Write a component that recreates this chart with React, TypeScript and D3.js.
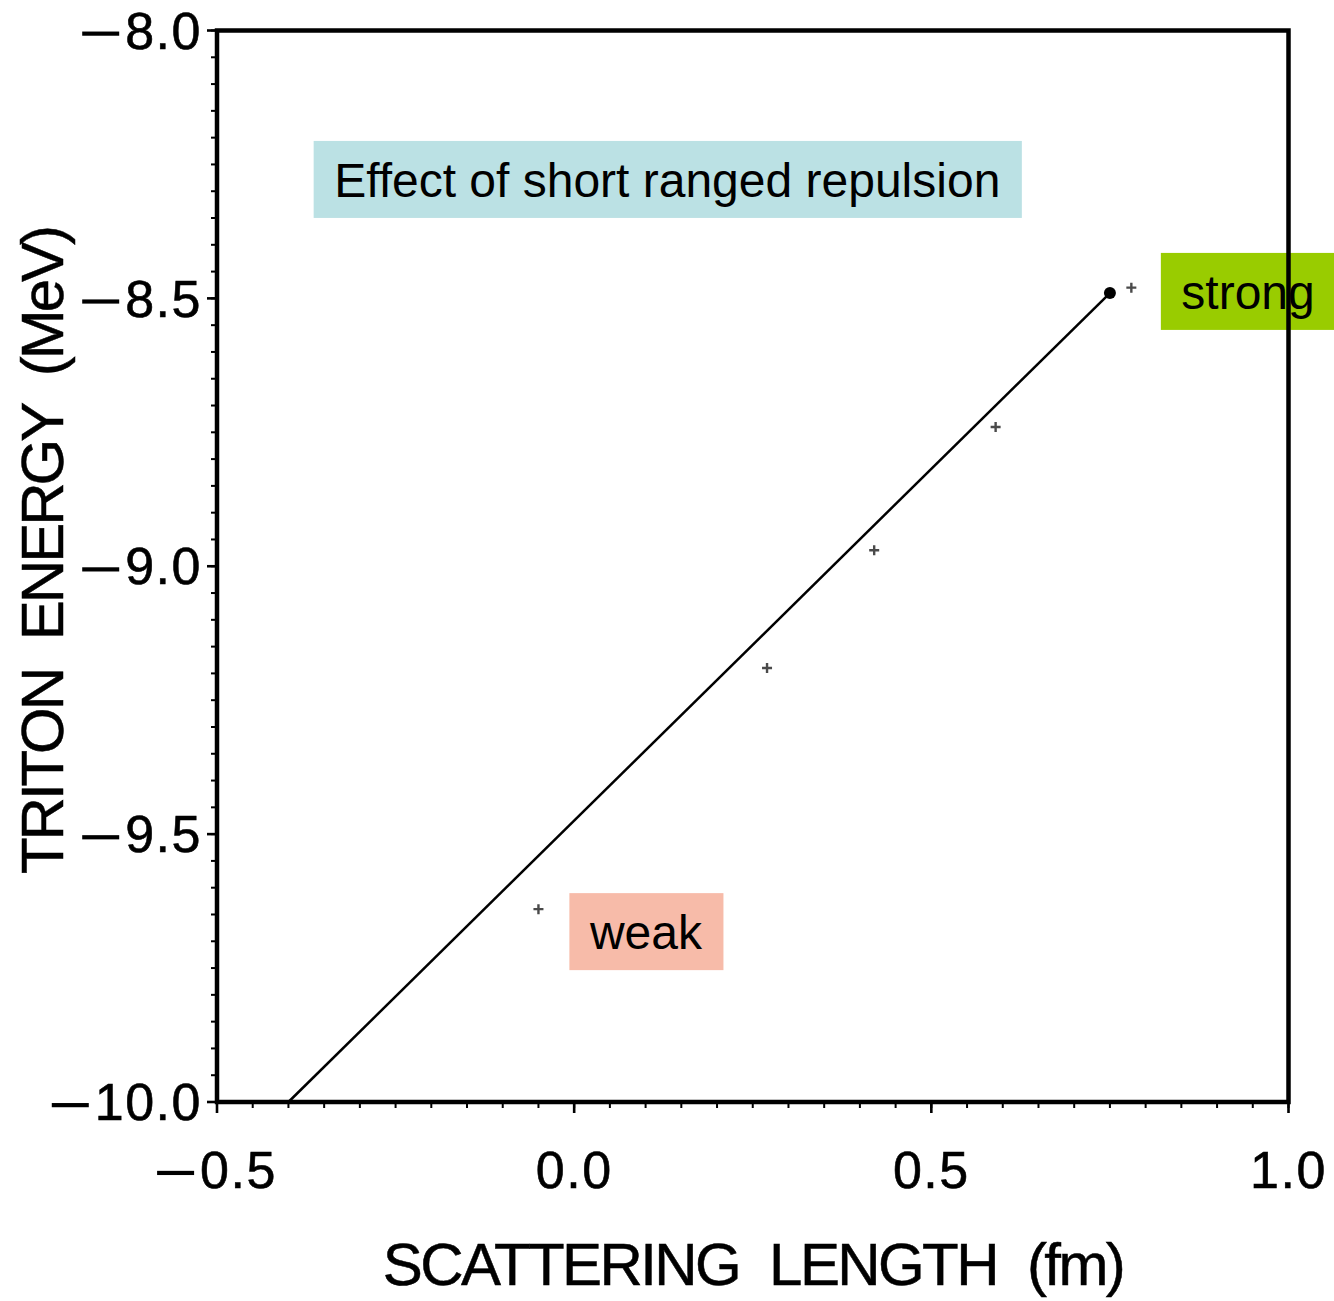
import React, { useEffect, useRef } from "react";
import * as d3 from "d3";

const xDomain: [number, number] = [-0.5, 1.0];
const yDomain: [number, number] = [-10.0, -8.0];
const xTicks = [-0.5, 0.0, 0.5, 1.0];
const yTicks = [-10.0, -9.5, -9.0, -8.5, -8.0];
const xTickLabels = ["\u22120.5", "0.0", "0.5", "1.0"];
const yTickLabels = ["\u221210.0", "\u22129.5", "\u22129.0", "\u22128.5", "\u22128.0"];

// fitted line (scattering length, triton energy)
const lineX = [-0.4, 0.75];
const lineY = [-10.0, -8.49];
// computed points (crosses)
const pointX = [-0.05, 0.27, 0.42, 0.59, 0.78];
const pointY = [-9.64, -9.19, -8.97, -8.74, -8.48];

const annText = ["Effect of short ranged repulsion", "strong", "weak"];
const annX = [-0.336, 0.85, 0.022];
const annY = [-8.278, -8.487, -9.682];
const annFill = ["#bbe1e4", "#99cc00", "#f7bba9"];

const xLabel = "SCATTERING LENGTH (fm)";
const yLabel = "TRITON ENERGY (MeV)";

const W = 1334;
const H = 1301;
const FONT = "'Liberation Sans', Arial, Helvetica, sans-serif";
const TICK_FS = 52;
const MINUS_W = 37;
const MINUS_GAP = 6;

export default function App() {
  const ref = useRef<SVGSVGElement | null>(null);

  useEffect(() => {
    const svg = d3.select(ref.current);
    svg.selectAll("*").remove();

    const x = d3.scaleLinear().domain(xDomain).range([217, 1288.5]);
    const y = d3.scaleLinear().domain(yDomain).range([1102, 30.5]);

    const g = svg.append("g");

    // annotations (boxes behind)
    annText.forEach((t, i) => {
      const tx = x(annX[i]);
      const cy = y(annY[i]);
      const grp = g.append("g");
      const rect = grp.append("rect");
      const text = grp
        .append("text")
        .attr("x", tx)
        .attr("y", cy)
        .attr("dy", "0.36em")
        .attr("font-family", FONT)
        .attr("font-size", 48)
        .attr("fill", "#000")
        .text(t);
      const w = (text.node() as SVGTextElement).getComputedTextLength();
      rect
        .attr("x", tx - 20.5)
        .attr("y", cy - 38.5)
        .attr("width", w + 42)
        .attr("height", 77)
        .attr("fill", annFill[i]);
    });

    // line
    const lineData = lineX.map((v, i) => [v, lineY[i]] as [number, number]);
    g.append("path")
      .datum(lineData)
      .attr(
        "d",
        d3
          .line<[number, number]>()
          .x((d) => x(d[0]))
          .y((d) => y(d[1]))
      )
      .attr("fill", "none")
      .attr("stroke", "#000")
      .attr("stroke-width", 2.5);

    g.append("circle")
      .attr("cx", x(lineX[1]))
      .attr("cy", y(lineY[1]))
      .attr("r", 6)
      .attr("fill", "#000");

    // crosses
    pointX.forEach((px, i) => {
      const cx = x(px);
      const cy = y(pointY[i]);
      g.append("path")
        .attr("d", `M${cx - 5},${cy}H${cx + 5}M${cx},${cy - 5}V${cy + 5}`)
        .attr("stroke", "#4a4a4a")
        .attr("stroke-width", 2.4)
        .attr("fill", "none");
    });

    // minor ticks
    const xMinor = d3.range(-0.5, 1.0001, 0.05);
    const yMinor = d3.range(-10, -7.9999, 0.05);
    const x0 = x(xDomain[0]);
    const x1 = x(xDomain[1]);
    const y0 = y(yDomain[0]);
    const y1 = y(yDomain[1]);

    xMinor.forEach((v) => {
      g.append("line")
        .attr("x1", x(v))
        .attr("x2", x(v))
        .attr("y1", y0)
        .attr("y2", y0 + 6)
        .attr("stroke", "#000")
        .attr("stroke-width", 2);
    });
    yMinor.forEach((v) => {
      g.append("line")
        .attr("x1", x0)
        .attr("x2", x0 - 6)
        .attr("y1", y(v))
        .attr("y2", y(v))
        .attr("stroke", "#000")
        .attr("stroke-width", 2);
    });
    // major ticks
    xTicks.forEach((v) => {
      g.append("line")
        .attr("x1", x(v))
        .attr("x2", x(v))
        .attr("y1", y0)
        .attr("y2", y0 + 11)
        .attr("stroke", "#000")
        .attr("stroke-width", 2.6);
    });
    yTicks.forEach((v) => {
      g.append("line")
        .attr("x1", x0)
        .attr("x2", x0 - 10)
        .attr("y1", y(v))
        .attr("y2", y(v))
        .attr("stroke", "#000")
        .attr("stroke-width", 2.6);
    });

    // frame
    g.append("rect")
      .attr("x", x0)
      .attr("y", y1)
      .attr("width", x1 - x0)
      .attr("height", y0 - y1)
      .attr("fill", "none")
      .attr("stroke", "#000")
      .attr("stroke-width", 4.5);

    // tick label helper: wide minus drawn separately
    const drawLabel = (
      label: string,
      anchorX: number,
      baseY: number,
      align: "middle" | "end"
    ) => {
      const neg = label.startsWith("\u2212");
      const digits = neg ? label.slice(1) : label;
      const t = g
        .append("text")
        .attr("y", baseY)
        .attr("font-family", FONT)
        .attr("font-size", TICK_FS)
        .attr("letter-spacing", 1.5)
        .attr("fill", "#000")
        .attr("stroke", "#000")
        .attr("stroke-width", 0.6)
        .text(digits);
      const dw = (t.node() as SVGTextElement).getComputedTextLength();
      const total = dw + (neg ? MINUS_W + MINUS_GAP : 0);
      const startX = align === "middle" ? anchorX - total / 2 : anchorX - total;
      const digitsX = startX + (neg ? MINUS_W + MINUS_GAP : 0);
      t.attr("x", digitsX);
      if (neg) {
        g.append("rect")
          .attr("x", startX)
          .attr("y", baseY - TICK_FS * 0.33)
          .attr("width", MINUS_W)
          .attr("height", 4.2)
          .attr("fill", "#000");
      }
    };

    xTicks.forEach((v, i) => drawLabel(xTickLabels[i], x(v), 1188, "middle"));
    yTicks.forEach((v, i) =>
      drawLabel(yTickLabels[i], 202, y(v) + TICK_FS * 0.35, "end")
    );

    // axis titles
    g.append("text")
      .attr("x", 753)
      .attr("y", 1285)
      .attr("text-anchor", "middle")
      .attr("font-family", FONT)
      .attr("font-size", 60)
      .attr("letter-spacing", -2.6)
      .attr("word-spacing", 16)
      .attr("fill", "#000")
      .attr("stroke", "#000")
      .attr("stroke-width", 0.5)
      .text(xLabel);

    g.append("text")
      .attr("transform", `translate(63,551) rotate(-90)`)
      .attr("text-anchor", "middle")
      .attr("font-family", FONT)
      .attr("font-size", 60)
      .attr("letter-spacing", -3)
      .attr("word-spacing", 16)
      .attr("fill", "#000")
      .attr("stroke", "#000")
      .attr("stroke-width", 0.5)
      .text(yLabel);
  }, []);

  return (
    <svg
      ref={ref}
      width={W}
      height={H}
      style={{ position: "absolute", left: 0, top: 0, background: "#fff" }}
    />
  );
}
